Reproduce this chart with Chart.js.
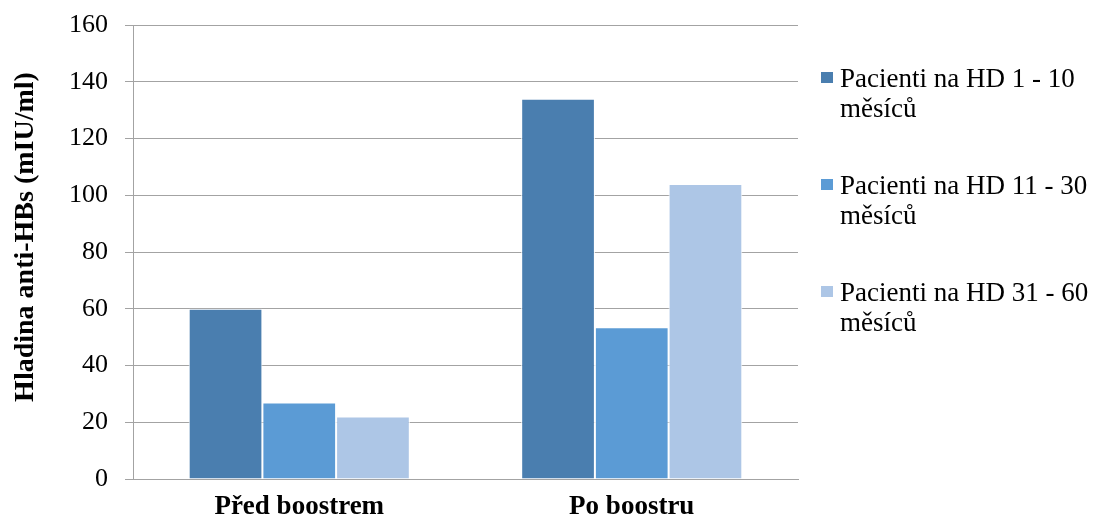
<!DOCTYPE html>
<html>
<head>
<meta charset="utf-8">
<script src="https://cdn.jsdelivr.net/npm/chart.js@4/dist/chart.umd.min.js"></script>
<style>
  html, body { margin: 0; padding: 0; background: #ffffff; }
  #wrap { width: 1096px; height: 519px; }
</style>
</head>
<body>
<div id="wrap"><canvas id="c" width="1096" height="519"></canvas></div>
<script>
// Categories, series and axis labels
const categories = ['Před boostrem', 'Po boostru'];
const seriesLabels = [
  ['Pacienti na HD 1 - 10', 'měsíců'],
  ['Pacienti na HD 11 - 30', 'měsíců'],
  ['Pacienti na HD 31 - 60', 'měsíců']
];
const hd1to10 = [60, 134];
const hd11to30 = [27, 53.5];
const hd31to60 = [22, 104];
const yTitle = 'Hladina anti-HBs (mIU/ml)';
const yMin = 0, yMax = 160, yStep = 20;

const colors = ['#4A7EAF', '#5B9BD5', '#ADC6E6'];
const serif = '"Liberation Serif", "Times New Roman", serif';
const gridGray = '#A3A3A3';

// Right-hand legend with two-line entries and the rotated y title
const decorations = {
  id: 'decorations',
  afterDraw(chart) {
    const ctx = chart.ctx;
    ctx.save();
    // legend
    ctx.font = '27px ' + serif;
    ctx.fillStyle = '#000';
    ctx.textBaseline = 'alphabetic';
    ctx.textAlign = 'left';
    const firstBaseline = 87, itemGap = 107, lineGap = 30;
    chart.data.datasets.forEach((ds, i) => {
      const base = firstBaseline + i * itemGap;
      ctx.fillStyle = ds.backgroundColor;
      ctx.fillRect(821, base - 15, 12, 11);
      ctx.fillStyle = '#000';
      const lines = Array.isArray(ds.label) ? ds.label : [ds.label];
      lines.forEach((ln, j) => ctx.fillText(ln, 840, base + j * lineGap));
    });
    // y axis title
    ctx.translate(26, 237);
    ctx.rotate(-Math.PI / 2);
    ctx.font = 'bold 28px ' + serif;
    ctx.textAlign = 'center';
    ctx.textBaseline = 'middle';
    ctx.fillText(yTitle, 0, 0);
    ctx.restore();
  }
};

new Chart(document.getElementById('c'), {
  type: 'bar',
  data: {
    labels: categories,
    datasets: [hd1to10, hd11to30, hd31to60].map((vals, i) => ({
      label: seriesLabels[i],
      data: vals,
      backgroundColor: colors[i],
      borderColor: '#ffffff',
      borderWidth: 1,
      categoryPercentage: 0.665,
      barPercentage: 1.0
    }))
  },
  options: {
    responsive: false,
    devicePixelRatio: 1,
    animation: false,
    layout: { padding: { top: 25, right: 298, left: 0, bottom: 0 } },
    plugins: {
      legend: { display: false },
      tooltip: { enabled: false },
      title: { display: false }
    },
    scales: {
      x: {
        grid: { display: false },
        border: { display: true, color: gridGray, width: 1 },
        ticks: {
          color: '#000',
          padding: 4,
          font: { family: serif, size: 27, weight: 'bold' }
        },
        afterFit(scale) { scale.height = 40; }
      },
      y: {
        min: yMin,
        max: yMax,
        ticks: {
          stepSize: yStep,
          color: '#000',
          padding: 17,
          font: { family: serif, size: 26 }
        },
        grid: { color: gridGray, lineWidth: 1, tickLength: 8, drawTicks: true },
        border: { display: true, color: gridGray, width: 1 },
        afterFit(scale) {
          scale.width = 133;
          scale.paddingTop = 0;
          scale.paddingBottom = 0;
        }
      }
    }
  },
  plugins: [decorations]
});
</script>
</body>
</html>
